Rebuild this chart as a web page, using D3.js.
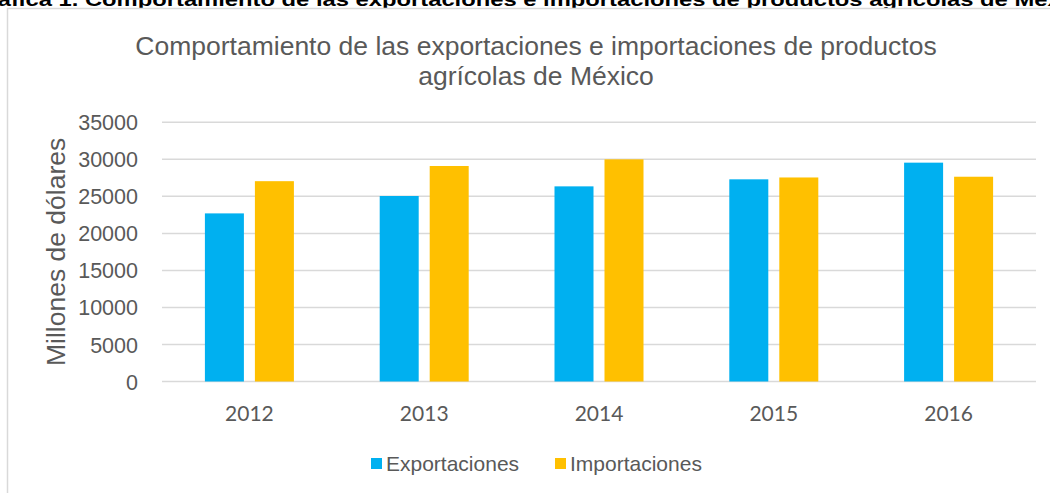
<!DOCTYPE html>
<html>
<head>
<meta charset="utf-8">
<script src="https://cdn.jsdelivr.net/npm/d3@7"></script>
<style>
  html, body { margin: 0; padding: 0; background: #fff; overflow: hidden; }
  svg { display: block; }
</style>
</head>
<body>
<svg id="chart" width="1050" height="493"></svg>
<script>
// Data
const years = ["2012", "2013", "2014", "2015", "2016"];
const exportaciones = [22700, 25050, 26350, 27300, 29550];
const importaciones = [27050, 29100, 30000, 27550, 27650];
const seriesNames = ["Exportaciones", "Importaciones"];
const seriesColors = ["#00B0F0", "#FFC000"];
const yTicks = [0, 5000, 10000, 15000, 20000, 25000, 30000, 35000];

const svg = d3.select("#chart");
const W = 1050, H = 493;

// Caption line above the chart frame (runs past the page edges)
svg.append("text")
  .attr("x", -30).attr("y", 5.5)
  .attr("text-anchor", "start")
  .attr("font-family", "Liberation Sans, Arial, sans-serif")
  .attr("font-weight", "bold")
  .attr("font-size", 19)
  .attr("fill", "#000")
  .attr("textLength", 1125)
  .attr("lengthAdjust", "spacingAndGlyphs")
  .text("Gráfica 1. Comportamiento de las exportaciones e importaciones de productos agrícolas de México");

// Chart frame
svg.append("rect")
  .attr("x", 7.5).attr("y", 8.5)
  .attr("width", W + 20).attr("height", H + 20)
  .attr("fill", "#fff")
  .attr("stroke", "#d9d9d9").attr("stroke-width", 1.5);

// Title
const title = svg.append("text")
  .attr("text-anchor", "middle")
  .attr("font-family", "Liberation Sans, Arial, sans-serif")
  .attr("font-size", 26.5)
  .attr("fill", "#595959");
title.append("tspan").attr("x", 536).attr("y", 55)
  .text("Comportamiento de las exportaciones e importaciones de productos");
title.append("tspan").attr("x", 536).attr("y", 85)
  .text("agrícolas de México");

// Scales
const plot = { left: 162, right: 1036, top: 122.3, bottom: 381.5 };
const x0 = d3.scaleBand().domain(years).range([plot.left, plot.right]).padding(0);
const groupW = 89;
const x1 = d3.scaleBand().domain(seriesNames)
  .range([(x0.bandwidth() - groupW) / 2, (x0.bandwidth() + groupW) / 2])
  .paddingInner(0.22).paddingOuter(0);
const y = d3.scaleLinear().domain([0, 35000]).range([plot.bottom, plot.top]);

// Gridlines
svg.append("g")
  .selectAll("line")
  .data(yTicks)
  .join("line")
  .attr("x1", plot.left).attr("x2", plot.right)
  .attr("y1", d => y(d)).attr("y2", d => y(d))
  .attr("stroke", "#d9d9d9").attr("stroke-width", 1.5);

// Y axis labels
const yAxis = d3.axisLeft(y).tickValues(yTicks).tickSize(0).tickPadding(0).tickFormat(d3.format("d"));
const gy = svg.append("g").attr("transform", `translate(138,0)`).call(yAxis);
gy.select(".domain").remove();
gy.selectAll("text")
  .attr("font-family", "Liberation Sans, Arial, sans-serif")
  .attr("font-size", 21.5)
  .attr("fill", "#595959")
  .attr("dy", "0.35em");

// Y axis title
svg.append("text")
  .attr("transform", `translate(65,${(plot.top + plot.bottom) / 2 }) rotate(-90)`)
  .attr("text-anchor", "middle")
  .attr("font-family", "Liberation Sans, Arial, sans-serif")
  .attr("font-size", 26.5)
  .attr("fill", "#595959")
  .text("Millones de dólares");

// Bars
const rows = years.map((yr, i) => ({ year: yr, values: [exportaciones[i], importaciones[i]] }));
const groups = svg.append("g").selectAll("g")
  .data(rows)
  .join("g")
  .attr("transform", d => `translate(${x0(d.year)},0)`);
groups.selectAll("rect")
  .data(d => d.values.map((v, j) => ({ name: seriesNames[j], value: v, color: seriesColors[j] })))
  .join("rect")
  .attr("x", d => x1(d.name))
  .attr("width", x1.bandwidth())
  .attr("y", d => y(d.value))
  .attr("height", d => y(0) - y(d.value))
  .attr("fill", d => d.color);

// X axis labels
const xAxis = d3.axisBottom(x0).tickSize(0).tickPadding(0);
const gx = svg.append("g").attr("transform", `translate(0,${plot.bottom})`).call(xAxis);
gx.select(".domain").remove();
gx.selectAll("text")
  .attr("font-family", "Lato, Carlito, sans-serif")
  .attr("font-size", 21)
  .attr("fill", "#595959")
  .attr("dy", "0")
  .attr("y", 39);

// Legend
const legendItems = [
  { name: seriesNames[0], color: seriesColors[0], x: 371 },
  { name: seriesNames[1], color: seriesColors[1], x: 555 }
];
const lg = svg.append("g").selectAll("g").data(legendItems).join("g")
  .attr("transform", d => `translate(${d.x},463.5)`);
lg.append("rect").attr("x", 0).attr("y", -5.5).attr("width", 11).attr("height", 11)
  .attr("fill", d => d.color);
lg.append("text").attr("x", 15).attr("y", 0).attr("dy", "0.35em")
  .attr("font-family", "Liberation Sans, Arial, sans-serif")
  .attr("font-size", 21)
  .attr("fill", "#595959")
  .text(d => d.name);
</script>
</body>
</html>
